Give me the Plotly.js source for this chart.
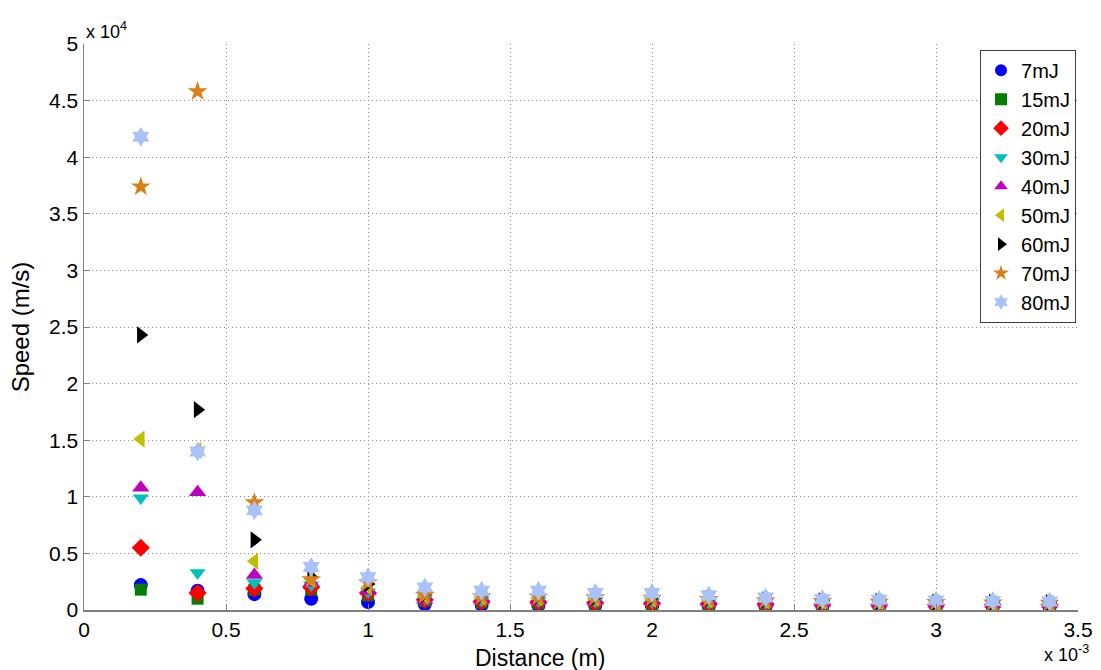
<!DOCTYPE html>
<html>
<head>
<meta charset="utf-8">
<script src="https://cdn.plot.ly/plotly-3.0.1.min.js"></script>
<style>html,body{margin:0;padding:0;background:#fff;}#chart{width:1101px;height:670px;}</style>
</head>
<body>
<div id="chart"></div>
<script>
// Distance (m)
const distance = [0.0002,0.0004,0.0006,0.0008,0.0010,0.0012,0.0014,0.0016,0.0018,0.0020,0.0022,0.0024,0.0026,0.0028,0.0030,0.0032,0.0034];
const seriesNames = ["7mJ","15mJ","20mJ","30mJ","40mJ","50mJ","60mJ","70mJ","80mJ"];
// Speed (m/s)
const speed7  = [2200,1700,1400,1000,700,500,450,400,380,350,330,320,300,300,280,280,270];
const speed15 = [1800,1000,1800,1800,1300,800,650,600,550,520,480,450,430,420,400,390,380];
const speed20 = [5500,1500,1900,2000,1500,900,750,700,650,600,560,530,500,480,460,450,440];
const speed30 = [9900,3300,2400,2200,1600,1000,850,800,750,700,650,620,580,550,530,520,500];
const speed40 = [10800,10400,3100,2400,1700,900,900,850,800,750,700,650,600,580,560,540,520];
const speed50 = [15100,14100,4300,2700,2000,1200,1100,1050,1000,950,850,800,750,700,650,620,600];
const speed60 = [24300,17700,6200,2900,2300,1400,1300,1250,1150,1100,1000,900,800,750,700,680,650];
const speed70 = [37400,45800,9500,2700,2400,1300,1200,1150,1100,1050,950,850,780,720,680,650,620];
const speed80 = [41800,14000,8800,3800,2900,2000,1700,1700,1500,1500,1300,1100,950,900,850,800,750];
const allSpeeds = [speed7,speed15,speed20,speed30,speed40,speed50,speed60,speed70,speed80];
const xTickVals = [0,0.0005,0.001,0.0015,0.002,0.0025,0.003,0.0035];
const xTickText = ["0","0.5","1","1.5","2","2.5","3","3.5"];
const yTickVals = [0,5000,10000,15000,20000,25000,30000,35000,40000,45000,50000];
const yTickText = ["0","0.5","1","1.5","2","2.5","3","3.5","4","4.5","5"];

const symbols = ["circle","square","diamond","triangle-down","triangle-up","triangle-left","triangle-right","star","hexagram"];
const colors = ["#0000ff","#007f00","#ff0000","#00bfbf","#bf00bf","#bfbf00","#000000","#d9801a","#a9c2f7"];
const sizes = [14,12,14,14,15,15,15,15,15];

const traces = seriesNames.map((n,i)=>({
  x: distance, y: allSpeeds[i], name: n, type:"scatter", mode:"markers",
  marker:{symbol:symbols[i], color:colors[i], size:sizes[i], line:{width:0}}
}));

const font = {family:"Liberation Sans, Arial, sans-serif", color:"#000"};
const gridStyle = {showgrid:true, gridcolor:"#8a8a8a", griddash:"1px,3px", gridwidth:1};
const layout = {
  width:1101, height:670,
  margin:{l:84, r:23, t:44, b:60},
  paper_bgcolor:"#fff", plot_bgcolor:"#fff",
  font:Object.assign({size:20}, font),
  showlegend:true,
  legend:{x:0.998, xanchor:"right", y:0.99, yanchor:"top", bgcolor:"#fff",
    bordercolor:"#404040", borderwidth:1, font:Object.assign({size:20},font),
    itemsizing:"constant", tracegroupgap:0, itemwidth:30},
  xaxis:Object.assign({range:[0,0.0035], tickvals:xTickVals, ticktext:xTickText,
    showline:true, linecolor:"#808080", linewidth:1.5, ticks:"inside", ticklen:6, tickcolor:"#808080",
    zeroline:false, tickfont:Object.assign({size:21},font), fixedrange:true}, gridStyle),
  yaxis:Object.assign({range:[0,50000], tickvals:yTickVals, ticktext:yTickText,
    showline:true, linecolor:"#808080", linewidth:1.5, ticks:"inside", ticklen:6, tickcolor:"#808080",
    zeroline:false, tickfont:Object.assign({size:21},font),
    title:{text:"Speed (m/s)", font:Object.assign({size:24},font), standoff:12}}, gridStyle),
  annotations:[
    {text:"Distance (m)", xref:"paper", yref:"paper", x:0.459, y:-0.058, xanchor:"center", yanchor:"top",
      showarrow:false, font:Object.assign({size:23},font)},
    {text:"x 10<sup>4</sup>", xref:"paper", yref:"paper", x:0.0, y:1.0, xanchor:"left", yanchor:"bottom",
      showarrow:false, font:Object.assign({size:18},font)},
    {text:"x 10<sup>-3</sup>", xref:"paper", yref:"paper", x:1.013, y:-0.1, xanchor:"right", yanchor:"bottom",
      showarrow:false, font:Object.assign({size:18},font)}
  ]
};
Plotly.newPlot("chart", traces, layout, {displayModeBar:false, staticPlot:true});
</script>
</body>
</html>
